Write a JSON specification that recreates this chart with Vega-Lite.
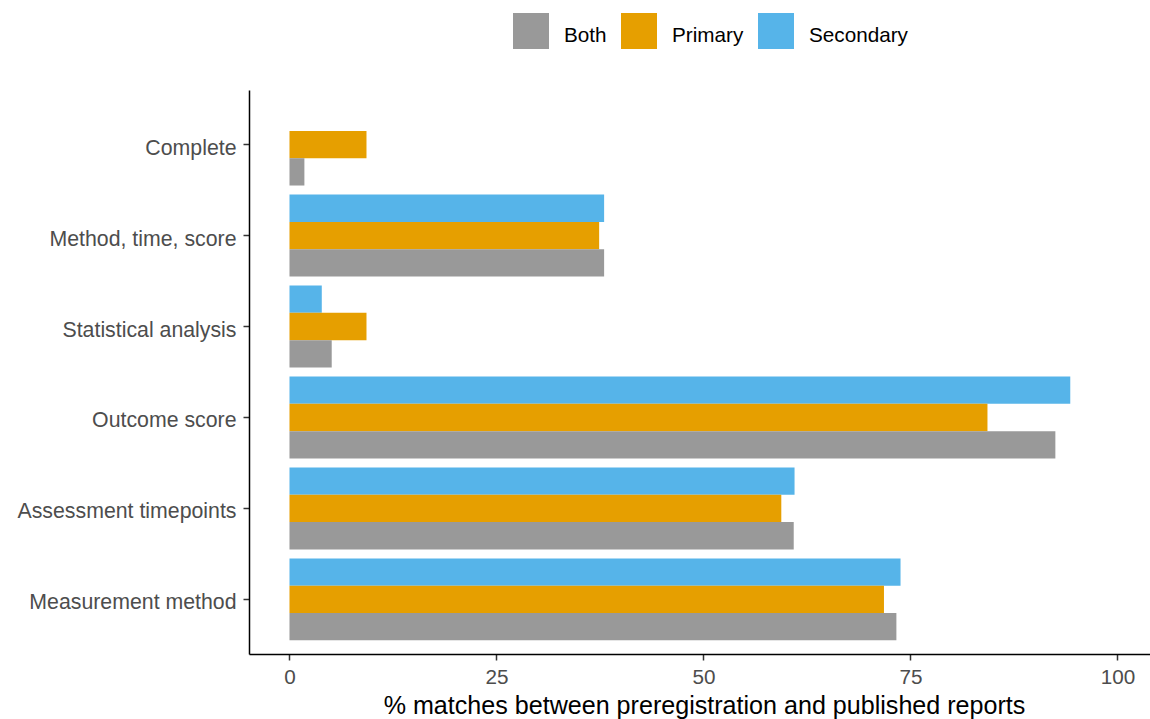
{
  "$schema": "https://vega.github.io/schema/vega-lite/v6.json",
  "autosize": {"type": "none"},
  "padding": {"left": 249, "top": 90, "right": 0, "bottom": 65},
  "width": 901,
  "height": 564,
  "config": {
    "font": "Liberation Sans",
    "view": {"stroke": null},
    "axis": {"grid": false}
  },
  "data": {
    "values": [
      {"item": "Complete", "type": "Primary", "pct": 9.3},
      {"item": "Complete", "type": "Both", "pct": 1.8},
      {"item": "Method, time, score", "type": "Secondary", "pct": 38.0},
      {"item": "Method, time, score", "type": "Primary", "pct": 37.4},
      {"item": "Method, time, score", "type": "Both", "pct": 38.0},
      {"item": "Statistical analysis", "type": "Secondary", "pct": 3.9},
      {"item": "Statistical analysis", "type": "Primary", "pct": 9.3},
      {"item": "Statistical analysis", "type": "Both", "pct": 5.1},
      {"item": "Outcome score", "type": "Secondary", "pct": 94.3},
      {"item": "Outcome score", "type": "Primary", "pct": 84.3},
      {"item": "Outcome score", "type": "Both", "pct": 92.5},
      {"item": "Assessment timepoints", "type": "Secondary", "pct": 61.0},
      {"item": "Assessment timepoints", "type": "Primary", "pct": 59.4},
      {"item": "Assessment timepoints", "type": "Both", "pct": 60.9},
      {"item": "Measurement method", "type": "Secondary", "pct": 73.8},
      {"item": "Measurement method", "type": "Primary", "pct": 71.8},
      {"item": "Measurement method", "type": "Both", "pct": 73.3}
    ]
  },
  "mark": {"type": "bar"},
  "encoding": {
    "y": {
      "field": "item",
      "type": "nominal",
      "sort": ["Complete", "Method, time, score", "Statistical analysis", "Outcome score", "Assessment timepoints", "Measurement method"],
      "scale": {"paddingInner": 0.1, "paddingOuter": 0.15},
      "axis": {
        "title": null,
        "labelFontSize": 21.3,
        "labelColor": "#4D4D4D",
        "labelPadding": 7,
        "labelLimit": 400,
        "labelOffset": 4,
        "tickSize": 6,
        "tickColor": "#333333",
        "tickWidth": 1.5,
        "domainColor": "#000000",
        "domainWidth": 1.5
      }
    },
    "yOffset": {
      "field": "type",
      "type": "nominal",
      "scale": {"domain": ["Secondary", "Primary", "Both"], "paddingInner": 0, "paddingOuter": 0}
    },
    "x": {
      "field": "pct",
      "type": "quantitative",
      "stack": null,
      "scale": {"domain": [-4.89, 103.93], "nice": false, "zero": false},
      "axis": {
        "values": [0, 25, 50, 75, 100],
        "title": "% matches between preregistration and published reports",
        "titleFontSize": 25.1,
        "titleFontWeight": "normal",
        "titleColor": "#000000",
        "titleX": 455,
        "titleY": 59,
        "titleBaseline": "alphabetic",
        "labelFontSize": 20.7,
        "labelColor": "#4D4D4D",
        "labelPadding": 7,
        "tickSize": 6,
        "tickColor": "#333333",
        "tickWidth": 1.5,
        "domainColor": "#000000",
        "domainWidth": 1.5
      }
    },
    "x2": {"datum": 0},
    "color": {
      "field": "type",
      "type": "nominal",
      "scale": {"domain": ["Both", "Primary", "Secondary"], "range": ["#999999", "#E69F00", "#56B4E9"]},
      "legend": {
        "title": null,
        "orient": "none",
        "direction": "horizontal",
        "legendX": 264,
        "legendY": -77,
        "symbolType": "square",
        "symbolSize": 1296,
        "symbolStrokeWidth": 0,
        "symbolOpacity": 1,
        "labelFontSize": 20.7,
        "labelColor": "#000000",
        "labelOffset": 15,
        "labelBaseline": "middle",
        "columnPadding": 14,
        "encode": {"labels": {"update": {"dy": {"value": 5}}}}
      }
    }
  }
}
